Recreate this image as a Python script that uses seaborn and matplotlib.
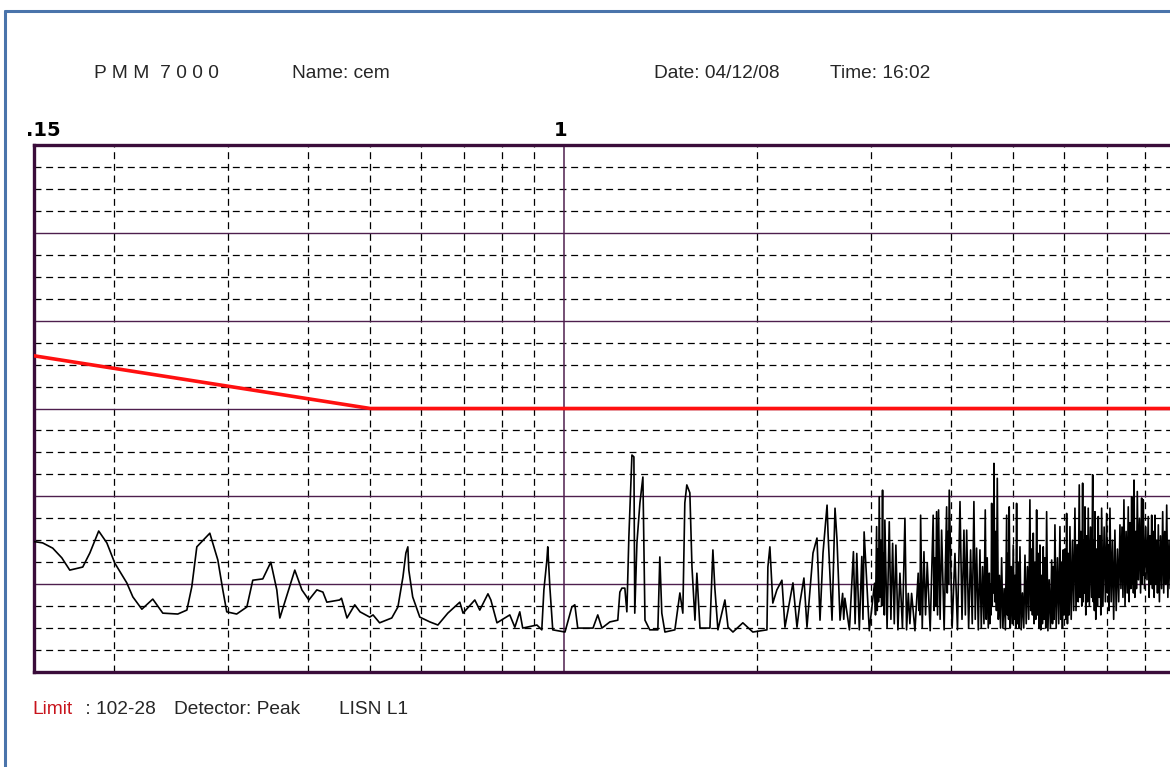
import matplotlib
matplotlib.use("Agg")
import numpy as np
import pandas as pd
import seaborn as sns
import matplotlib.pyplot as plt
import matplotlib.transforms as mtransforms
from matplotlib.lines import Line2D

# ---------------- data ----------------
# trace, 0.15 - 1.22 MHz  (frequency MHz, level dB)
low_freq = [0.150, 0.1547, 0.1604, 0.1657, 0.1705, 0.1786, 0.1832, 0.1891, 0.1947, 0.2003,
            0.2091, 0.2137, 0.2207, 0.2295, 0.2379, 0.2510, 0.2593, 0.2639, 0.2687, 0.2815,
            0.2897, 0.2949, 0.2991, 0.3099, 0.3214, 0.3283, 0.3403, 0.3502, 0.3578, 0.3617,
            0.3816, 0.3914, 0.4013, 0.4130, 0.4220,
            0.428, 0.448, 0.451, 0.460, 0.473, 0.482, 0.499, 0.505, 0.517, 0.540,
            0.552, 0.562, 0.568, 0.572, 0.574, 0.582, 0.597, 0.619, 0.637, 0.660,
            0.689, 0.697, 0.727, 0.740, 0.762, 0.770, 0.787, 0.824, 0.839, 0.854,
            0.863, 0.908, 0.924, 0.931, 0.941, 0.944, 0.951, 0.961, 1.004, 1.029,
            1.040, 1.051, 1.110, 1.129, 1.146, 1.179, 1.213, 1.222]
low_level = [29.7, 29.4, 28.2, 26.0, 23.2, 23.9, 27.1, 32.1, 29.4, 24.8,
             20.3, 17.1, 14.3, 16.6, 13.4, 13.2, 14.1, 19.4, 28.5, 31.6,
             25.5, 18.7, 13.7, 13.2, 14.8, 20.9, 21.2, 25.0, 18.7, 12.3,
             23.2, 18.7, 16.4, 18.7, 18.2,
             15.9, 16.4, 16.8, 12.3, 15.3, 13.7, 12.5, 13.0, 11.2, 12.3,
             14.8, 21.6, 27.1, 28.5, 23.2, 17.1, 12.5, 11.4, 10.7, 13.4,
             15.9, 13.4, 16.4, 14.1, 17.8, 16.4, 11.2, 13.0, 10.2, 13.7,
             10.0, 10.7, 9.6, 18.7, 25.5, 28.5, 19.4, 9.6, 9.1, 14.8,
             15.3, 10.0, 10.0, 13.0, 10.0, 11.4, 11.8, 18.2]

# trace, 1.23 - 2.69 MHz
mid_freq = [1.231, 1.244, 1.253, 1.262, 1.276, 1.285, 1.289, 1.299, 1.313, 1.327,
            1.337, 1.360, 1.400, 1.410, 1.420, 1.436, 1.488, 1.515, 1.531, 1.542,
            1.553, 1.570, 1.582, 1.599, 1.610, 1.628, 1.687, 1.705, 1.717, 1.736,
            1.780, 1.800, 1.832, 1.898, 1.967, 2.069, 2.076, 2.091, 2.113, 2.144,
            2.183, 2.207, 2.271, 2.304, 2.328, 2.362, 2.388, 2.440, 2.475, 2.502,
            2.529, 2.566, 2.575, 2.612, 2.640, 2.659, 2.688]
mid_level = [19.1, 19.1, 13.7, 30.7, 49.4, 49.0, 13.4, 29.4, 38.5, 44.4,
             11.8, 9.6, 9.6, 26.2, 13.4, 9.1, 9.6, 18.0, 13.4, 38.5,
             42.6, 40.8, 23.9, 11.8, 22.5, 10.0, 10.0, 27.8, 19.1, 9.6,
             16.4, 10.2, 9.1, 11.2, 9.1, 9.6, 23.9, 28.5, 15.7, 18.7,
             20.9, 10.2, 20.3, 10.2, 15.7, 21.4, 10.2, 27.1, 30.5, 11.8,
             27.1, 38.0, 31.6, 11.8, 37.3, 30.1, 11.8]

# trace, 2.71 - 4.41 MHz: (frequency MHz, level dB) peaks and dips
dense_a = [
    (2.713, 17.9), (2.724, 12.0), (2.735, 16.8), (2.780, 9.6), (2.820, 27.4), (2.837, 11.0),
    (2.854, 27.0), (2.880, 9.6), (2.906, 26.3), (2.918, 12.0), (2.930, 31.9), (2.985, 9.4),
    (3.041, 20.2), (3.052, 13.0), (3.064, 33.1), (3.071, 14.0), (3.078, 28.0), (3.085, 16.0),
    (3.093, 39.9), (3.104, 17.0), (3.111, 30.0), (3.120, 15.0), (3.130, 41.4), (3.137, 16.0),
    (3.143, 27.0), (3.150, 13.0), (3.156, 34.6), (3.181, 10.0), (3.206, 34.2), (3.225, 12.0),
    (3.245, 29.3), (3.264, 11.0), (3.283, 28.9), (3.307, 9.6), (3.331, 22.5), (3.361, 10.0),
    (3.391, 35.0), (3.411, 9.6), (3.432, 17.9), (3.452, 11.0), (3.473, 17.9), (3.515, 9.4),
    (3.556, 22.5), (3.564, 14.0), (3.571, 20.0), (3.579, 13.0), (3.587, 35.7), (3.608, 10.0),
    (3.630, 27.4), (3.651, 13.0), (3.673, 24.8), (3.712, 9.4), (3.752, 35.7), (3.764, 14.0),
    (3.775, 26.0), (3.786, 15.0), (3.798, 36.5), (3.811, 13.0), (3.825, 36.9), (3.846, 12.0),
    (3.867, 32.3), (3.902, 9.6), (3.937, 37.6), (3.946, 18.0), (3.955, 32.0), (3.964, 20.0),
    (3.974, 41.4), (4.015, 10.0), (4.056, 27.0), (4.093, 9.6), (4.130, 38.8), (4.160, 12.0),
    (4.189, 32.3), (4.210, 13.0), (4.230, 32.3), (4.260, 10.0), (4.290, 27.8), (4.315, 11.0),
    (4.341, 38.8), (4.362, 12.0), (4.383, 28.2), (4.410, 9.6),
]

# trace, 4.43 - 6.21 MHz
dense_b = [
    (4.436, 27.8), (4.457, 10), (4.478, 24), (4.500, 11),
    (4.521, 36.9), (4.537, 12), (4.553, 26), (4.570, 10),
    (4.586, 22.5), (4.596, 11), (4.606, 20), (4.616, 13),
    (4.626, 38.4), (4.635, 15), (4.645, 30), (4.655, 18),
    (4.664, 47.5), (4.678, 16), (4.692, 32), (4.706, 14),
    (4.720, 44.1), (4.738, 12), (4.757, 22), (4.775, 10),
    (4.794, 26.0), (4.816, 10), (4.837, 19), (4.859, 9.6),
    (4.881, 35.7), (4.892, 13), (4.903, 27), (4.915, 12),
    (4.926, 37.6), (4.944, 10), (4.962, 24), (4.980, 11),
    (4.998, 28.9), (5.013, 12), (5.028, 22), (5.043, 10),
    (5.058, 38.4), (5.073, 11), (5.088, 25), (5.104, 10),
    (5.119, 28.5), (5.142, 9.6), (5.165, 18), (5.189, 10),
    (5.212, 26.6), (5.235, 11), (5.258, 24), (5.282, 12),
    (5.305, 39.2), (5.321, 14), (5.337, 28), (5.353, 13),
    (5.369, 31.6), (5.385, 11), (5.401, 25), (5.418, 12),
    (5.434, 36.9), (5.450, 13), (5.466, 27), (5.483, 10),
    (5.499, 28.9), (5.515, 9.6), (5.531, 22), (5.548, 11),
    (5.564, 28.5), (5.581, 12), (5.598, 26), (5.615, 10),
    (5.632, 36.5), (5.658, 9.4), (5.683, 21), (5.709, 10),
    (5.735, 25.5), (5.752, 11), (5.768, 24), (5.785, 12),
    (5.802, 33.5), (5.828, 10), (5.854, 26), (5.881, 11),
    (5.907, 33.1), (5.925, 12), (5.942, 25), (5.960, 10),
    (5.977, 27.8), (5.995, 13), (6.013, 28), (6.032, 12),
    (6.050, 36.1), (6.068, 11), (6.086, 27), (6.104, 13),
    (6.122, 33.1), (6.150, 12), (6.177, 30), (6.205, 14),
]

# trace, 6.23 - 8.8 MHz
dense_c = [
    (6.233, 37.3), (6.257, 14), (6.281, 29), (6.306, 16),
    (6.330, 42.6), (6.349, 17), (6.368, 32), (6.388, 15),
    (6.407, 43.0), (6.420, 16), (6.434, 30), (6.447, 18),
    (6.461, 37.6), (6.480, 13), (6.499, 31), (6.518, 16),
    (6.537, 37.3), (6.563, 15), (6.590, 33), (6.616, 17),
    (6.642, 44.9), (6.656, 16), (6.669, 30), (6.683, 14),
    (6.696, 36.5), (6.716, 12), (6.736, 28), (6.756, 15),
    (6.776, 35.4), (6.797, 17), (6.817, 31), (6.838, 13),
    (6.858, 37.3), (6.889, 15), (6.920, 33), (6.951, 16),
    (6.982, 36.1), (7.003, 18), (7.024, 29), (7.044, 14),
    (7.065, 37.3), (7.097, 16), (7.129, 30), (7.160, 12),
    (7.192, 32.3), (7.225, 14), (7.258, 28), (7.290, 16),
    (7.323, 33.5), (7.349, 19), (7.376, 33), (7.402, 17),
    (7.428, 39.2), (7.457, 15), (7.486, 32), (7.515, 18),
    (7.544, 37.6), (7.567, 16), (7.590, 34), (7.614, 19),
    (7.637, 39.9), (7.653, 20), (7.669, 33), (7.685, 18),
    (7.701, 43.7), (7.724, 17), (7.747, 32), (7.769, 19),
    (7.792, 41.1), (7.823, 21), (7.854, 35), (7.884, 18),
    (7.915, 39.6), (7.926, 20), (7.938, 31), (7.949, 22),
    (7.960, 39.2), (7.996, 19), (8.032, 33), (8.068, 21),
    (8.104, 35.4), (8.129, 17), (8.154, 31), (8.179, 20),
    (8.204, 35.7), (8.228, 19), (8.253, 32), (8.277, 17),
    (8.301, 35.7), (8.326, 20), (8.351, 30), (8.376, 18),
    (8.401, 33.5), (8.434, 16), (8.467, 31), (8.501, 19),
    (8.534, 36.5), (8.565, 18), (8.596, 32), (8.626, 20),
    (8.657, 38.0), (8.693, 17), (8.729, 30), (8.765, 19),
    (8.800, 34.0),
]

# limit line "102-28"
limit_freq = [0.15, 0.5, 8.8]
limit_level = [72, 60, 60]

# grid frequencies (MHz) and levels (dB)
minor_freqs = [0.2, 0.3, 0.4, 0.5, 0.6, 0.7, 0.8, 0.9, 2, 3, 4, 5, 6, 7, 8]
major_freqs = [1]
major_levels = [20, 40, 60, 80, 100]
minor_levels = [5, 10, 15, 25, 30, 35, 45, 50, 55, 65, 70, 75, 85, 90, 95, 105, 110, 115]

# ---------------- figure ----------------
sns.set_theme(style="white")
plt.rcParams["font.family"] = ["Liberation Sans", "DejaVu Sans"]
plt.rcParams["lines.scale_dashes"] = False

W, H = 1170, 767
fig = plt.figure(figsize=(W / 100, H / 100), dpi=100)
fig.patch.set_facecolor("white")

L_px, T_px, B_px = 34, 145, 672
ax = fig.add_axes([L_px / W, (H - B_px) / H, (W - L_px) / W, (B_px - T_px) / H])
ax.set_facecolor("white")
ax.set_xscale("log")
ax.set_xlim(0.15, 8.76)
ax.set_ylim(0, 120)

FRAME = "#3a0c3a"
GRID_SOLID = "#4e1f4e"
dash = (0, (5.0, 3.4))

for v in minor_levels:
    ax.axhline(v, color="black", lw=0.9, ls=dash, zorder=1)
for v in major_levels:
    ax.axhline(v, color=GRID_SOLID, lw=1.0, zorder=1.5)
for f in minor_freqs:
    ax.axvline(f, color="black", lw=0.9, ls=dash, zorder=1)
for f in major_freqs:
    ax.axvline(f, color=GRID_SOLID, lw=1.1, zorder=1.5)

dense = dense_a + dense_b + dense_c
trace = pd.DataFrame({
    "freq": low_freq + mid_freq + [p[0] for p in dense],
    "level": low_level + mid_level + [p[1] for p in dense],
})
limit = pd.DataFrame({"freq": limit_freq, "level": limit_level})

sns.lineplot(data=trace, x="freq", y="level", ax=ax, color="black", lw=1.2,
             estimator=None, sort=False, zorder=3)
sns.lineplot(data=limit, x="freq", y="level", ax=ax, color="#ff1010", lw=2.6,
             estimator=None, sort=False, zorder=4)

ax.set_xlabel("")
ax.set_ylabel("")
ax.set_xticks([])
ax.set_yticks([])
ax.minorticks_off()
ax.tick_params(which="both", length=0)
for side in ["left", "top", "bottom"]:
    ax.spines[side].set_color(FRAME)
    ax.spines[side].set_linewidth(2.4)
    ax.spines[side].set_visible(True)
ax.spines["right"].set_visible(False)

# frequency labels above the frame
blend = mtransforms.blended_transform_factory(ax.transData, ax.transAxes)
ax.text(0.15, 1.0, ".15", transform=mtransforms.offset_copy(blend, fig=fig, x=-8, y=5, units="dots"),
        ha="left", va="bottom", fontsize=14, fontweight="bold", color="black",
        family=["DejaVu Sans"])
ax.text(1.0, 1.0, "1", transform=mtransforms.offset_copy(blend, fig=fig, x=4, y=5, units="dots"),
        ha="right", va="bottom", fontsize=14, fontweight="bold", color="black",
        family=["DejaVu Sans"])

def px(x, y):
    return x / W, 1 - y / H

fs = 13.8
fig.text(*px(94, 78), "P M M  7 0 0 0", fontsize=fs, va="baseline", ha="left")
fig.text(*px(292, 78), "Name: cem", fontsize=fs, va="baseline", ha="left")
fig.text(*px(654, 78), "Date: 04/12/08", fontsize=fs, va="baseline", ha="left")
fig.text(*px(830, 78), "Time: 16:02", fontsize=fs, va="baseline", ha="left")

fig.text(*px(32, 714), "Limit", fontsize=fs, va="baseline", ha="left", color="#c8141c")
fig.text(*px(80, 714), " : 102-28", fontsize=fs, va="baseline", ha="left")
fig.text(*px(174, 714), "Detector: Peak", fontsize=fs, va="baseline", ha="left")
fig.text(*px(339, 714), "LISN L1", fontsize=fs, va="baseline", ha="left")

# window border
BLUE = "#4a74ab"
fig.add_artist(Line2D([5 / W, 1], [1 - 11 / H, 1 - 11 / H], color=BLUE, lw=2.2))
fig.add_artist(Line2D([5 / W, 5 / W], [0, 1 - 11 / H], color=BLUE, lw=2.2))

fig.savefig("out.png", dpi=100, facecolor="white")
